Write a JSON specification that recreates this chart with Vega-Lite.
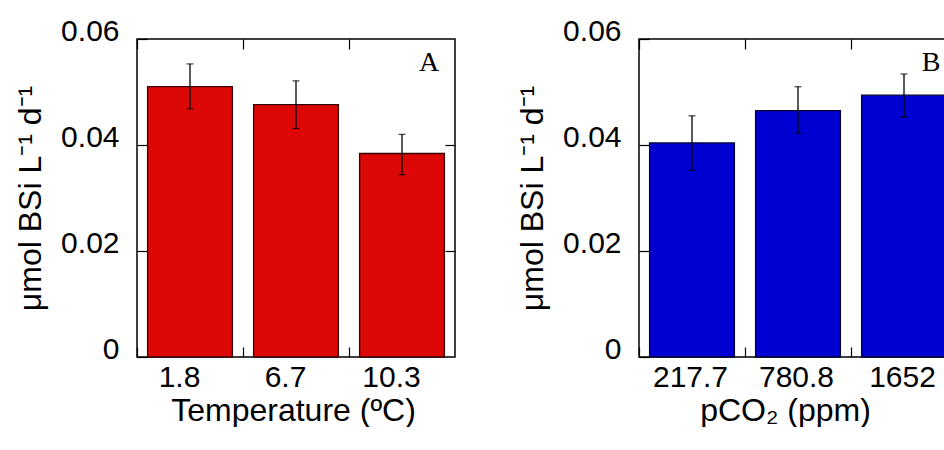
{
  "$schema": "https://vega.github.io/schema/vega-lite/v6.json",
  "padding": {"left": 13, "top": 15, "right": 0, "bottom": 0},
  "spacing": 58,
  "config": {
    "font": "Liberation Sans",
    "view": {"stroke": "black", "strokeWidth": 1.5},
    "axis": {
      "domain": false, "grid": false, "tickColor": "black", "tickSize": -10, "tickWidth": 1.2,
      "labelFont": "Liberation Sans", "labelFontSize": 30, "labelColor": "black", "labelFlush": false,
      "titleFont": "Liberation Sans", "titleFontSize": 32, "titleFontWeight": "normal", "titleColor": "black"
    }
  },
  "hconcat": [
    {
      "width": 318, "height": 318,
      "data": {"values": [
        {"temp": "1.8", "rate": 0.0510, "lo": 0.0468, "hi": 0.0553},
        {"temp": "6.7", "rate": 0.0476, "lo": 0.0431, "hi": 0.0521},
        {"temp": "10.3", "rate": 0.0384, "lo": 0.0344, "hi": 0.0420}
      ]},
      "resolve": {"axis": {"x": "independent", "y": "independent"}},
      "layer": [
        {
          "mark": {"type": "bar", "color": "#DD0806", "stroke": "#3a0000", "strokeWidth": 1.3},
          "encoding": {
            "x": {"field": "temp", "type": "ordinal", "sort": null,
                  "scale": {"paddingInner": 0.2, "paddingOuter": 0.1},
                  "axis": {"orient": "bottom", "labelAngle": 0, "title": "Temperature (ºC)", "titleX": 156, "tickOffset": -53, "labelOffset": 42, "labelPadding": 15, "titlePadding": 3}},
            "y": {"field": "rate", "type": "quantitative", "scale": {"domain": [0, 0.06], "nice": false},
                  "axis": {"orient": "left", "values": [0, 0.02, 0.04, 0.06], "format": "~g", "labelOffset": -8, "labelPadding": 28, "title": "μmol BSi L⁻¹ d⁻¹", "titlePadding": 13}}
          }
        },
        {
          "mark": {"type": "rule", "color": "black", "strokeWidth": 1.3},
          "encoding": {
            "x": {"field": "temp", "type": "ordinal", "sort": null,
                  "axis": {"orient": "top", "labels": false, "title": null, "tickOffset": -53}},
            "y": {"field": "lo", "type": "quantitative",
                  "axis": {"orient": "right", "labels": false, "title": null, "values": [0.02, 0.04]}},
            "y2": {"field": "hi"}
          }
        },
        {
          "mark": {"type": "tick", "color": "black", "size": 7, "thickness": 1.3, "orient": "horizontal"},
          "encoding": {
            "x": {"field": "temp", "type": "ordinal", "sort": null, "axis": null},
            "y": {"field": "lo", "type": "quantitative", "axis": null}
          }
        },
        {
          "mark": {"type": "tick", "color": "black", "size": 7, "thickness": 1.3, "orient": "horizontal"},
          "encoding": {
            "x": {"field": "temp", "type": "ordinal", "sort": null, "axis": null},
            "y": {"field": "hi", "type": "quantitative", "axis": null}
          }
        },
        {
          "data": {"values": [{"label": "A"}]},
          "mark": {"type": "text", "font": "Liberation Serif", "fontSize": 28, "color": "black", "dx": 27, "baseline": "middle"},
          "encoding": {
            "x": {"datum": "10.3", "type": "ordinal", "axis": null},
            "y": {"datum": 0.0555, "type": "quantitative", "axis": null},
            "text": {"field": "label"}
          }
        }
      ]
    },
    {
      "width": 318, "height": 318,
      "data": {"values": [
        {"pco2": "217.7", "rate": 0.0404, "lo": 0.0352, "hi": 0.0455},
        {"pco2": "780.8", "rate": 0.0465, "lo": 0.0422, "hi": 0.0510},
        {"pco2": "1652", "rate": 0.0494, "lo": 0.0453, "hi": 0.0534}
      ]},
      "resolve": {"axis": {"x": "independent", "y": "independent"}},
      "layer": [
        {
          "mark": {"type": "bar", "color": "#0000D3", "stroke": "#000030", "strokeWidth": 1.3},
          "encoding": {
            "x": {"field": "pco2", "type": "ordinal", "sort": null,
                  "scale": {"paddingInner": 0.2, "paddingOuter": 0.1},
                  "axis": {"orient": "bottom", "labelAngle": 0, "title": "pCO₂ (ppm)", "titleX": 146, "tickOffset": -53, "labelOffset": 51, "labelPadding": 15, "titlePadding": 3}},
            "y": {"field": "rate", "type": "quantitative", "scale": {"domain": [0, 0.06], "nice": false},
                  "axis": {"orient": "left", "values": [0, 0.02, 0.04, 0.06], "format": "~g", "labelOffset": -8, "labelPadding": 28, "title": "μmol BSi L⁻¹ d⁻¹", "titlePadding": 13}}
          }
        },
        {
          "mark": {"type": "rule", "color": "black", "strokeWidth": 1.3},
          "encoding": {
            "x": {"field": "pco2", "type": "ordinal", "sort": null,
                  "axis": {"orient": "top", "labels": false, "title": null, "tickOffset": -53}},
            "y": {"field": "lo", "type": "quantitative",
                  "axis": {"orient": "right", "labels": false, "title": null, "values": [0.02, 0.04]}},
            "y2": {"field": "hi"}
          }
        },
        {
          "mark": {"type": "tick", "color": "black", "size": 7, "thickness": 1.3, "orient": "horizontal"},
          "encoding": {
            "x": {"field": "pco2", "type": "ordinal", "sort": null, "axis": null},
            "y": {"field": "lo", "type": "quantitative", "axis": null}
          }
        },
        {
          "mark": {"type": "tick", "color": "black", "size": 7, "thickness": 1.3, "orient": "horizontal"},
          "encoding": {
            "x": {"field": "pco2", "type": "ordinal", "sort": null, "axis": null},
            "y": {"field": "hi", "type": "quantitative", "axis": null}
          }
        },
        {
          "data": {"values": [{"label": "B"}]},
          "mark": {"type": "text", "font": "Liberation Serif", "fontSize": 28, "color": "black", "dx": 27, "baseline": "middle"},
          "encoding": {
            "x": {"datum": "1652", "type": "ordinal", "axis": null},
            "y": {"datum": 0.0555, "type": "quantitative", "axis": null},
            "text": {"field": "label"}
          }
        }
      ]
    }
  ]
}
